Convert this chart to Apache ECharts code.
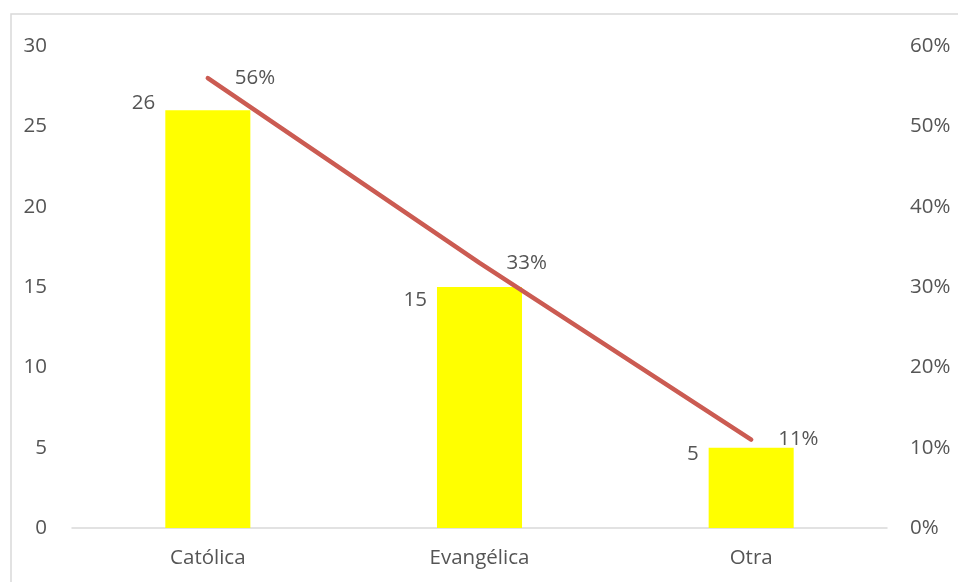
<!DOCTYPE html>
<html>
<head>
<meta charset="utf-8">
<script src="https://cdn.jsdelivr.net/npm/echarts@6/dist/echarts.min.js"></script>
<style>html,body{margin:0;padding:0;background:#fff;}#c{width:958px;height:582px;}</style>
</head>
<body>
<div id="c"></div>
<script>
const categories = ['Católica', 'Evangélica', 'Otra'];
const counts = [26, 15, 5];
const percents = [0.56, 0.33, 0.11];
const leftTicks = [0, 5, 10, 15, 20, 25, 30];
const rightTicks = [0, 0.1, 0.2, 0.3, 0.4, 0.5, 0.6];

// label vertical offsets (style only)
const barLabelDy = [-7, 13, 6];

const FONT = 'Open Sans';
const TXT = '#555555';
const FS = 20.5;

const chart = echarts.init(document.getElementById('c'), null, {renderer: 'canvas'});
chart.setOption({
  animation: false,
  backgroundColor: '#fff',
  graphic: [{
    type: 'rect', shape: {x: 11, y: 14, width: 1000, height: 700},
    style: {fill: 'none', stroke: '#D9D9D9', lineWidth: 1.5}, silent: true
  }],
  grid: {left: 72, right: 71, top: 46, bottom: 54},
  xAxis: {
    type: 'category', data: categories,
    axisLine: {lineStyle: {color: '#D9D9D9', width: 1.5}},
    axisTick: {show: false},
    axisLabel: {color: TXT, fontFamily: FONT, fontSize: FS, margin: 20}
  },
  yAxis: [{
    type: 'value', min: leftTicks[0], max: leftTicks[leftTicks.length - 1], interval: 5,
    axisLine: {show: false}, axisTick: {show: false}, splitLine: {show: false},
    axisLabel: {color: TXT, fontFamily: FONT, fontSize: FS, margin: 25}
  }, {
    type: 'value', min: rightTicks[0], max: rightTicks[rightTicks.length - 1], interval: 0.1,
    axisLine: {show: false}, axisTick: {show: false}, splitLine: {show: false},
    axisLabel: {color: TXT, fontFamily: FONT, fontSize: FS, margin: 23,
      formatter: v => Math.round(v * 100) + '%'}
  }],
  series: [{
    type: 'bar', yAxisIndex: 0, barWidth: '31.3%',
    itemStyle: {color: '#FFFF00'},
    data: counts.map((v, i) => ({
      value: v,
      label: {show: true, position: [-10, barLabelDy[i]], align: 'right', verticalAlign: 'middle',
        color: TXT, fontFamily: FONT, fontSize: FS}
    }))
  }, {
    type: 'line', yAxisIndex: 1, data: percents,
    symbol: 'circle', symbolSize: 2, showSymbol: true,
    itemStyle: {color: 'rgba(0,0,0,0)', borderWidth: 0},
    lineStyle: {color: '#CB5B52', width: 4.5, cap: 'round'},
    label: {show: true, position: 'right', distance: 26, color: TXT, fontFamily: FONT, fontSize: FS,
      formatter: p => Math.round(p.value * 100) + '%'},
    labelLayout: {hideOverlap: false},
    z: 3
  }]
});
</script>
</body>
</html>
